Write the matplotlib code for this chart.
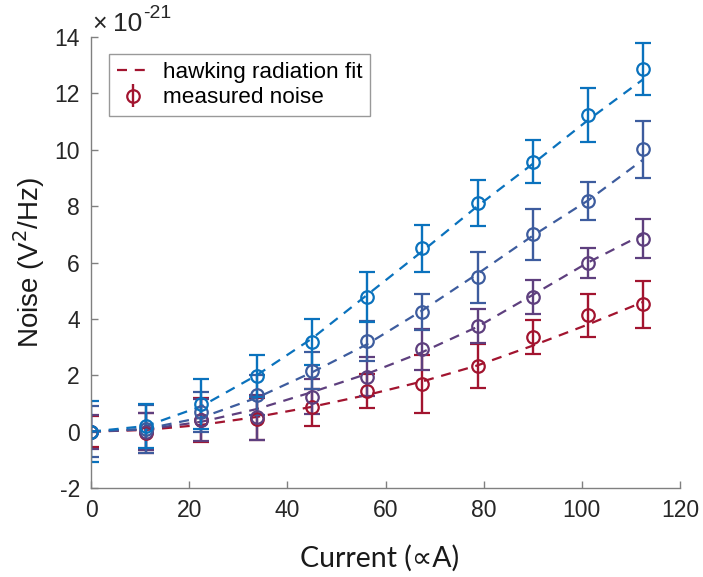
import matplotlib
matplotlib.use("Agg")
import matplotlib.pyplot as plt
from matplotlib.lines import Line2D

current = [0, 11.25, 22.5, 33.75, 45, 56.25, 67.5, 78.75, 90, 101.25, 112.5]

# values in units of 1e-21 V^2/Hz
red_y = [0.0, -0.05, 0.42, 0.45, 0.86, 1.45, 1.69, 2.33, 3.37, 4.13, 4.52]
red_err = [0.55, 0.7, 0.78, 0.75, 0.66, 0.6, 1.03, 0.78, 0.6, 0.77, 0.84]
red_fit = [0.0, 0.06, 0.24, 0.52, 0.88, 1.3, 1.78, 2.35, 3.05, 3.8, 4.6]

purple_y = [0.0, 0.0, 0.4, 0.51, 1.24, 1.95, 2.92, 3.76, 4.78, 5.97, 6.85]
purple_err = [0.6, 0.65, 0.75, 0.8, 0.62, 0.68, 0.72, 0.6, 0.6, 0.53, 0.68]
purple_fit = [0.0, 0.08, 0.35, 0.8, 1.4, 2.05, 2.82, 3.72, 4.85, 6.0, 7.0]

dblue_y = [0.0, 0.1, 0.7, 1.3, 2.16, 3.22, 4.25, 5.47, 7.0, 8.18, 10.01]
dblue_err = [0.9, 0.85, 0.7, 0.7, 0.65, 0.72, 0.65, 0.9, 0.9, 0.67, 1.02]
dblue_fit = [0.0, 0.1, 0.5, 1.2, 2.1, 3.1, 4.3, 5.6, 6.95, 8.2, 9.65]

lblue_y = [0.0, 0.21, 0.98, 1.98, 3.17, 4.78, 6.5, 8.12, 9.57, 11.23, 12.86]
lblue_err = [1.08, 0.78, 0.87, 0.74, 0.82, 0.88, 0.83, 0.82, 0.76, 0.95, 0.92]
lblue_fit = [0.0, 0.2, 0.9, 2.0, 3.3, 4.85, 6.4, 8.0, 9.5, 11.05, 12.5]

series = [
    (red_y, red_err, red_fit, "#A2142F"),
    (purple_y, purple_err, purple_fit, "#5E3F7E"),
    (dblue_y, dblue_err, dblue_fit, "#3D5C9E"),
    (lblue_y, lblue_err, lblue_fit, "#0A72BD"),
]

xticks = [0, 20, 40, 60, 80, 100, 120]
yticks = [-2, 0, 2, 4, 6, 8, 10, 12, 14]

fig = plt.figure(figsize=(7.03, 5.77), dpi=100)
ax = fig.add_axes([91 / 703, 1 - 488 / 577, (680 - 91) / 703, (488 - 37) / 577])

dash = (0, (4.5, 3.5))
for y, e, f, c in series:
    ax.plot(current, f, linestyle=dash, color=c, lw=1.6)
    ax.errorbar(current, y, yerr=e, fmt="o", mfc="none", mec=c, ecolor=c,
                color=c, ms=9, mew=1.6, elinewidth=1.7, capsize=5.5, capthick=1.7)

ax.set_xlim(0, 120)
ax.set_ylim(-2, 14)
ax.set_xticks(xticks)
ax.set_yticks(yticks)
ax.set_xticklabels([str(t) for t in xticks])
ax.set_yticklabels([str(t) for t in yticks])

for s in ["top", "right"]:
    ax.spines[s].set_visible(False)
for s in ["left", "bottom"]:
    ax.spines[s].set_color("#808080")
    ax.spines[s].set_linewidth(1.0)
ax.tick_params(direction="in", length=5, width=1.0, color="#808080",
               labelsize=16.5, labelcolor="#262626", pad=8)
for lab in ax.get_xticklabels() + ax.get_yticklabels():
    lab.set_family("Liberation Sans")

ax.set_ylabel("Noise (V$^2$/Hz)", fontsize=20, family="Liberation Sans",
              color="#1a1a1a", labelpad=5)
ax.set_xlabel("Current (\u221dA)", fontsize=20.5, family=["Lato", "DejaVu Sans"],
              color="#1a1a1a", labelpad=16)
ax.xaxis.set_label_coords((380 - 91) / 589, -0.125, transform=ax.transAxes)
ax.xaxis.label.set_va("top")

# exponent label drawn as in the reference: "×10" with superscript "-21"
ax.annotate("\u00d7", xy=(0, 1), xycoords="axes fraction",
            xytext=(1.0, 4.5), textcoords="offset points", fontsize=18,
            family="Liberation Sans", color="#262626", ha="left", va="baseline")
ax.annotate("10", xy=(0, 1), xycoords="axes fraction",
            xytext=(15.5, 4.5), textcoords="offset points", fontsize=19,
            family="Liberation Sans", color="#262626", ha="left", va="baseline")
ax.annotate("-21", xy=(0, 1), xycoords="axes fraction",
            xytext=(37.5, 14), textcoords="offset points", fontsize=14,
            family="Liberation Sans", color="#262626", ha="left", va="baseline")

red = series[0][3]
h_fit = Line2D([], [], linestyle=dash, color=red, lw=1.6)
h_meas = ax.errorbar([], [], yerr=[], fmt="o", mfc="none", mec=red, ecolor=red,
                     ms=9, mew=1.6, elinewidth=1.7, capsize=5.5, capthick=1.7)
leg = ax.legend([h_fit, h_meas], ["hawking radiation fit", "measured noise"],
                loc="upper left", bbox_to_anchor=(18 / 589, 1 - 17 / 451),
                prop={"family": "Liberation Sans", "size": 16.2},
                fancybox=False, edgecolor="#999999", framealpha=1,
                handlelength=1.45, borderpad=0.35, labelspacing=0.2,
                handletextpad=0.6, borderaxespad=0)
leg.get_frame().set_linewidth(1.0)

fig.savefig("out.png", dpi=100)
